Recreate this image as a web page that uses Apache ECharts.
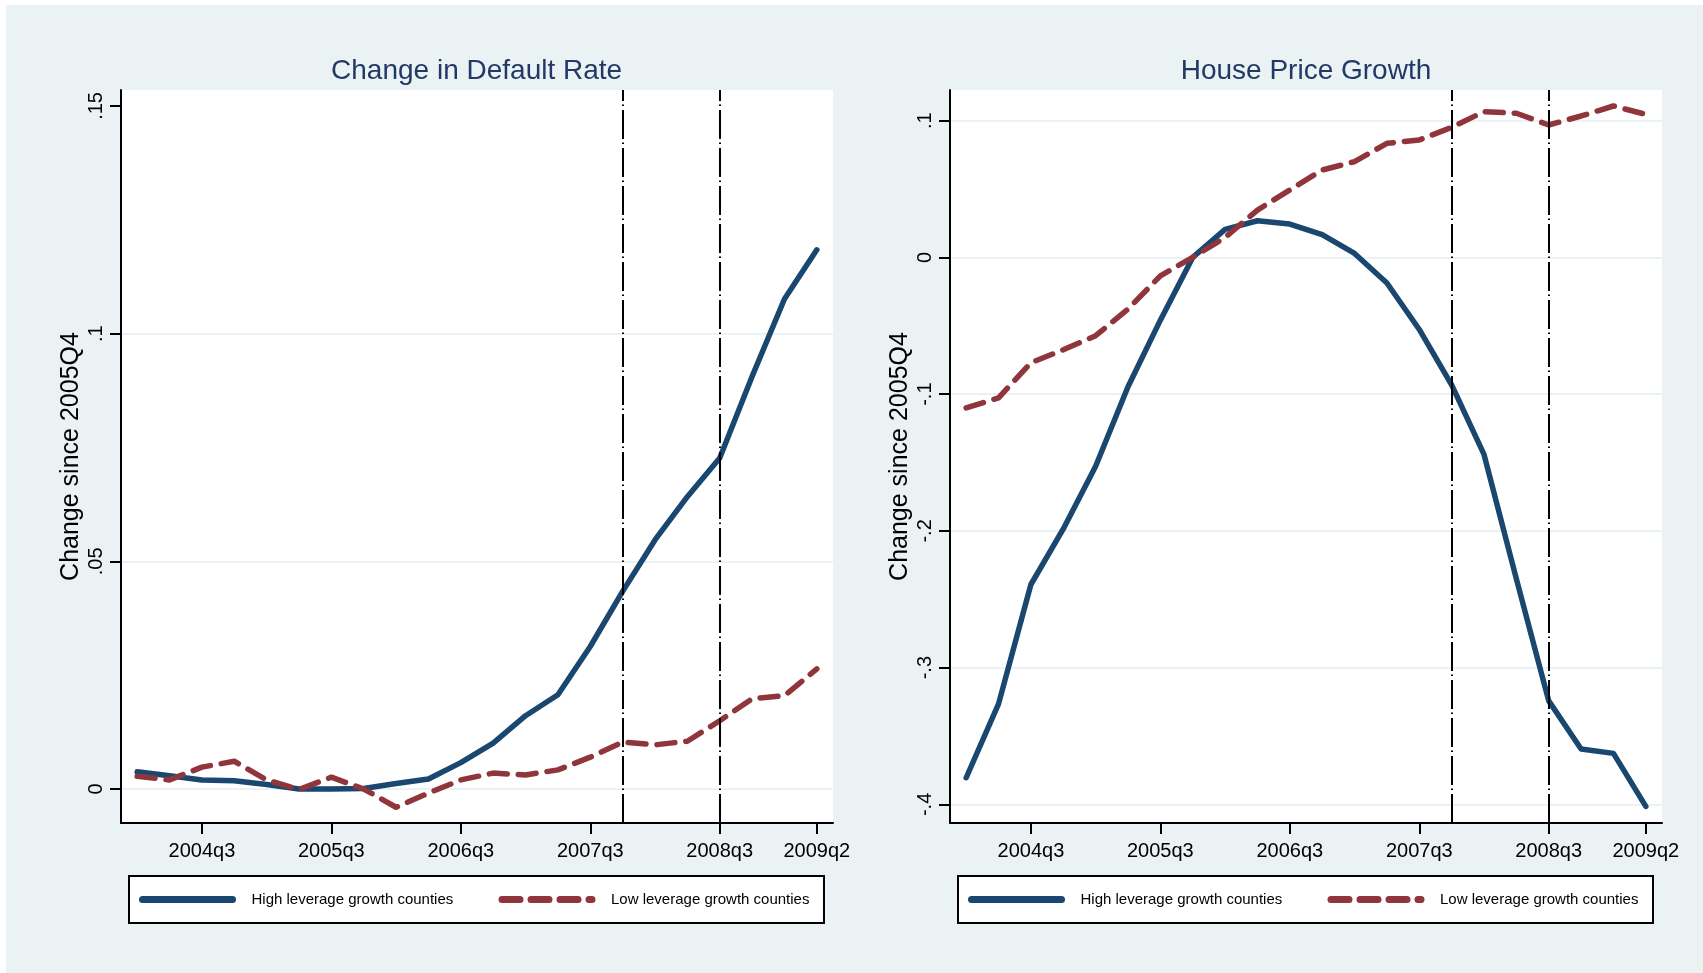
<!DOCTYPE html>
<html lang="en">
<head>
    <meta charset="UTF-8">
    <title>Default rate and house prices</title>
    <script src="https://cdn.jsdelivr.net/npm/echarts@6/dist/echarts.min.js"></script>
</head>
<style>
    body{
        margin: 0;
        padding: 0;
        background: #fff;
    }
    #main{
        position: absolute;
        left: 6px;
        top: 5px;
        width: 1697px;
        height: 968px;
    }
</style>
<body>
<div id="main"></div>
<script>
    // quarters on the x axis
    var quarters = ['2004q1', '2004q2', '2004q3', '2004q4', '2005q1', '2005q2', '2005q3', '2005q4',
        '2006q1', '2006q2', '2006q3', '2006q4', '2007q1', '2007q2', '2007q3', '2007q4',
        '2008q1', '2008q2', '2008q3', '2008q4', '2009q1', '2009q2'];
    var xTickLabels = ['2004q3', '2005q3', '2006q3', '2007q3', '2008q3', '2009q2'];
    var eventQuarters = ['2007q4', '2008q3'];

    // change in default rate since 2005Q4
    var defaultHigh = [0.0038, 0.0029, 0.0020, 0.0018, 0.0010, 0.0000, 0.0000, 0.0001, 0.0012, 0.0022, 0.0058,
        0.0101, 0.0161, 0.0207, 0.0313, 0.0434, 0.0547, 0.0642, 0.0727, 0.0906, 0.1076, 0.1184];
    var defaultLow = [0.0028, 0.0020, 0.0048, 0.0061, 0.0020, -0.0001, 0.0026, 0.0000, -0.0040, -0.0009, 0.0020,
        0.0035, 0.0031, 0.0042, 0.0070, 0.0103, 0.0097, 0.0105, 0.0150, 0.0198, 0.0205, 0.0264];

    // house price growth since 2005Q4
    var houseHigh = [-0.3805, -0.3265, -0.2392, -0.1986, -0.1527, -0.0946, -0.0459, 0.0000, 0.0205, 0.0268, 0.0244,
        0.0166, 0.0029, -0.0187, -0.0527, -0.0932, -0.1441, -0.2351, -0.3243, -0.3595, -0.3627, -0.4014];
    var houseLow = [-0.1100, -0.1027, -0.0770, -0.0676, -0.0573, -0.0378, -0.0135, 0.0000, 0.0146, 0.0346, 0.0493,
        0.0639, 0.0700, 0.0834, 0.0859, 0.0951, 0.1066, 0.1054, 0.0968, 0.1034, 0.1107, 0.1046];

    var defaultTicks = [0, 0.05, 0.1, 0.15];
    var houseTicks = [-0.4, -0.3, -0.2, -0.1, 0, 0.1];

    var HIGH = 'High leverage growth counties';
    var LOW = 'Low leverage growth counties';
    var font = '"Liberation Sans", Arial, sans-serif';
    var navy = '#1a476f';
    var maroon = '#90353b';
    var bg = '#eaf2f3';

    // stata style labels: .05, -.1, 0
    function fmt(v) {
        var s = String(+(+v).toFixed(3));
        return s.replace(/^(-?)0\./, '$1.');
    }

    function showTick(idx, value) {
        return xTickLabels.indexOf(value) >= 0;
    }

    var xTickIndex = xTickLabels.map(function (q) { return quarters.indexOf(q); });

    function xAxis(i) {
        return {
            type: 'category',
            gridIndex: i,
            data: quarters,
            boundaryGap: true,
            axisLine: {onZero: false, lineStyle: {color: '#000', width: 2}},
            axisTick: {show: true, alignWithLabel: true, customValues: xTickIndex, length: 11,
                lineStyle: {color: '#000', width: 2}},
            axisLabel: {interval: showTick, margin: 18, fontSize: 20, color: '#000', fontFamily: font},
            splitLine: {show: false}
        };
    }

    function yAxis(i, min, max, ticks, lineColors) {
        return {
            type: 'value',
            gridIndex: i,
            min: min,
            max: max,
            name: 'Change since 2005Q4',
            nameLocation: 'middle',
            nameGap: 37,
            nameTextStyle: {fontSize: 25, color: '#000', fontFamily: font},
            axisLine: {show: true, lineStyle: {color: '#000', width: 2}},
            axisTick: {show: true, customValues: ticks, length: 11, lineStyle: {color: '#000', width: 2}},
            axisLabel: {customValues: ticks, rotate: 90, margin: 15, fontSize: 20, color: '#000',
                fontFamily: font, formatter: fmt},
            splitLine: {show: true, lineStyle: {color: lineColors, width: 2}}
        };
    }

    var eventLines = {
        silent: true,
        symbol: ['none', 'none'],
        label: {show: false},
        animation: false,
        lineStyle: {color: '#000', width: 2, type: [29, 4, 1.5, 3.5]},
        data: eventQuarters.map(function (q) { return {xAxis: q}; })
    };

    function series(i, name, data, color, dashed) {
        var s = {
            name: name,
            type: 'line',
            xAxisIndex: i,
            yAxisIndex: i,
            data: data,
            symbol: 'none',
            animation: false,
            itemStyle: {color: color},
            lineStyle: {color: color, width: 5.5, cap: 'round', join: 'round'}
        };
        if (dashed) {
            s.lineStyle.type = [18, 11];
            s.markLine = eventLines;
        }
        return s;
    }

    function legend(left) {
        return {
            left: left,
            top: 871,
            orient: 'horizontal',
            padding: [15, 9, 15, 10],
            itemGap: 43,
            itemWidth: 90,
            itemHeight: 2,
            selectedMode: false,
            backgroundColor: '#fff',
            borderColor: '#000',
            borderWidth: 2,
            borderRadius: 0,
            lineStyle: {width: 7, cap: 'round'},
            textStyle: {fontFamily: font, fontSize: 15, color: '#000', width: 204, lineHeight: 17,
                padding: [0, 0, 0, 14]},
            data: [HIGH, LOW]
        };
    }

    function title(text, center) {
        return {
            text: text,
            left: center,
            top: 52,
            padding: 0,
            textAlign: 'center',
            textVerticalAlign: 'top',
            textStyle: {fontFamily: font, fontSize: 28, fontWeight: 'normal', color: '#223866', lineHeight: 28}
        };
    }

    var chart = echarts.init(document.getElementById('main'));
    var option = {
        backgroundColor: bg,
        animation: false,
        title: [title('Change in Default Rate', 470.6), title('House Price Growth', 1300)],
        legend: [legend(123), legend(952)],
        grid: [
            {left: 115, top: 85, width: 712, height: 733, show: true, backgroundColor: '#fff', borderWidth: 0},
            {left: 944, top: 85, width: 712, height: 733, show: true, backgroundColor: '#fff', borderWidth: 0}
        ],
        xAxis: [xAxis(0), xAxis(1)],
        yAxis: [
            yAxis(0, -0.00746, 0.1535, defaultTicks, [bg, bg, bg, 'rgba(0,0,0,0)']),
            yAxis(1, -0.4136, 0.1224, houseTicks, [bg])
        ],
        series: [
            series(0, HIGH, defaultHigh, navy, false),
            series(0, LOW, defaultLow, maroon, true),
            series(1, HIGH, houseHigh, navy, false),
            series(1, LOW, houseLow, maroon, true)
        ]
    };
    chart.setOption(option);
</script>
</body>
</html>
